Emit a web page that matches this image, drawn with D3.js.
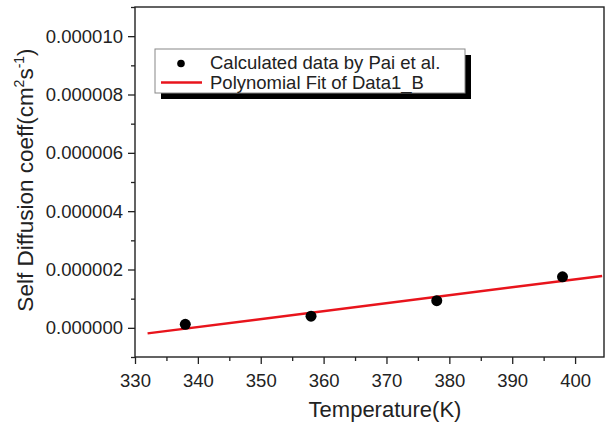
<!DOCTYPE html>
<html><head><meta charset="utf-8">
<script src="https://cdn.jsdelivr.net/npm/d3@7"></script>
<style>body{margin:0;background:#fff}svg{display:block}text{font-family:"Liberation Sans",Arial,Helvetica,sans-serif;fill:#222}</style>
</head><body>
<script>
const temperatures = [338, 358, 378, 398];
const diffusion = [1.2e-7, 4.0e-7, 9.3e-7, 1.75e-6];
const fitTemperatures = [332, 404.3];
const fitValues = [-1.9e-7, 1.78e-6];
const xTicks = [330, 340, 350, 360, 370, 380, 390, 400];
const yTicks = [0, 2e-6, 4e-6, 6e-6, 8e-6, 1e-5];
const legendLabels = ["Calculated data by Pai et al.", "Polynomial Fit of Data1_B"];
const xTitle = "Temperature(K)";

const W = 607, H = 423;
const m = {l:135, t:7, r:3, b:66};
const w = W - m.l - m.r, h = H - m.t - m.b;
const svg = d3.select("body").append("svg").attr("width", W).attr("height", H);
const g = svg.append("g").attr("transform", `translate(${m.l},${m.t})`);
const x = d3.scaleLinear().domain([330, 404.6]).range([0, w]);
const y = d3.scaleLinear().domain([-1e-6, 1.1e-5]).range([h, 0]);

// minor ticks
const xMinor = d3.range(335, 404.6, 10);
const yMinor = d3.range(-1e-6, 1.15e-5, 2e-6);
g.append("g").attr("transform", `translate(0,${h})`)
  .call(d3.axisBottom(x).tickValues(xMinor).tickSize(4).tickFormat(""))
  .call(a => a.select(".domain").remove())
  .selectAll("line").attr("stroke", "#222").attr("stroke-width", 1.3);
g.append("g")
  .call(d3.axisLeft(y).tickValues(yMinor).tickSize(4).tickFormat(""))
  .call(a => a.select(".domain").remove())
  .selectAll("line").attr("stroke", "#222").attr("stroke-width", 1.3);

const xa = g.append("g").attr("transform", `translate(0,${h})`)
  .call(d3.axisBottom(x).tickValues(xTicks).tickSize(7).tickPadding(10).tickFormat(d3.format("d")));
xa.selectAll("text").attr("font-size", 18.5).attr("fill", "#222");
const ya = g.append("g")
  .call(d3.axisLeft(y).tickValues(yTicks).tickSize(7).tickPadding(5).tickFormat(d3.format(".6f")));
ya.selectAll("text").attr("font-size", 18.5).attr("fill", "#222");
[xa, ya].forEach(a => {
  a.selectAll("line").attr("stroke", "#222").attr("stroke-width", 1.3);
  a.select(".domain").remove();
});

// frame
g.append("rect").attr("x", 0).attr("y", 0).attr("width", w).attr("height", h)
  .attr("fill", "none").attr("stroke", "#222").attr("stroke-width", 1.4);

// fit line
const line = d3.line().x(d => x(d[0])).y(d => y(d[1]));
g.append("path").datum(fitTemperatures.map((t, i) => [t, fitValues[i]]))
  .attr("d", line).attr("fill", "none").attr("stroke", "#e8141c").attr("stroke-width", 2.5);

// points
g.selectAll("circle.pt").data(temperatures.map((t, i) => [t, diffusion[i]])).enter()
  .append("circle").attr("class", "pt")
  .attr("cx", d => x(d[0])).attr("cy", d => y(d[1])).attr("r", 5.5).attr("fill", "#000");

// legend
const lg = svg.append("g").attr("transform", "translate(155,49)");
lg.append("rect").attr("x", 6).attr("y", 6).attr("width", 310).attr("height", 44).attr("fill", "#000");
lg.append("rect").attr("x", 0).attr("y", 0).attr("width", 310).attr("height", 44)
  .attr("fill", "#fff").attr("stroke", "#888").attr("stroke-width", 1);
lg.append("circle").attr("cx", 26).attr("cy", 14.5).attr("r", 3.8).attr("fill", "#000");
lg.append("line").attr("x1", 6).attr("x2", 47).attr("y1", 33.5).attr("y2", 33.5)
  .attr("stroke", "#e8141c").attr("stroke-width", 2.5);
lg.selectAll("text.lab").data(legendLabels).enter().append("text").attr("class", "lab")
  .attr("x", 55).attr("y", (d, i) => 19.5 + i * 20.5).attr("font-size", 18.5).text(d => d);

// axis titles
svg.append("text").attr("x", 385).attr("y", 417).attr("text-anchor", "middle")
  .attr("font-size", 22).text(xTitle);
const yt = svg.append("text").attr("transform", "translate(33,180) rotate(-90)")
  .attr("text-anchor", "middle").attr("font-size", 22.5);
yt.append("tspan").text("Self Diffusion coeff(cm");
yt.append("tspan").attr("font-size", 14).attr("dy", -9).text("2");
yt.append("tspan").attr("dy", 9).text("s");
yt.append("tspan").attr("font-size", 14).attr("dy", -9).text("-1");
yt.append("tspan").attr("dy", 9).text(")");
</script>
</body></html>
